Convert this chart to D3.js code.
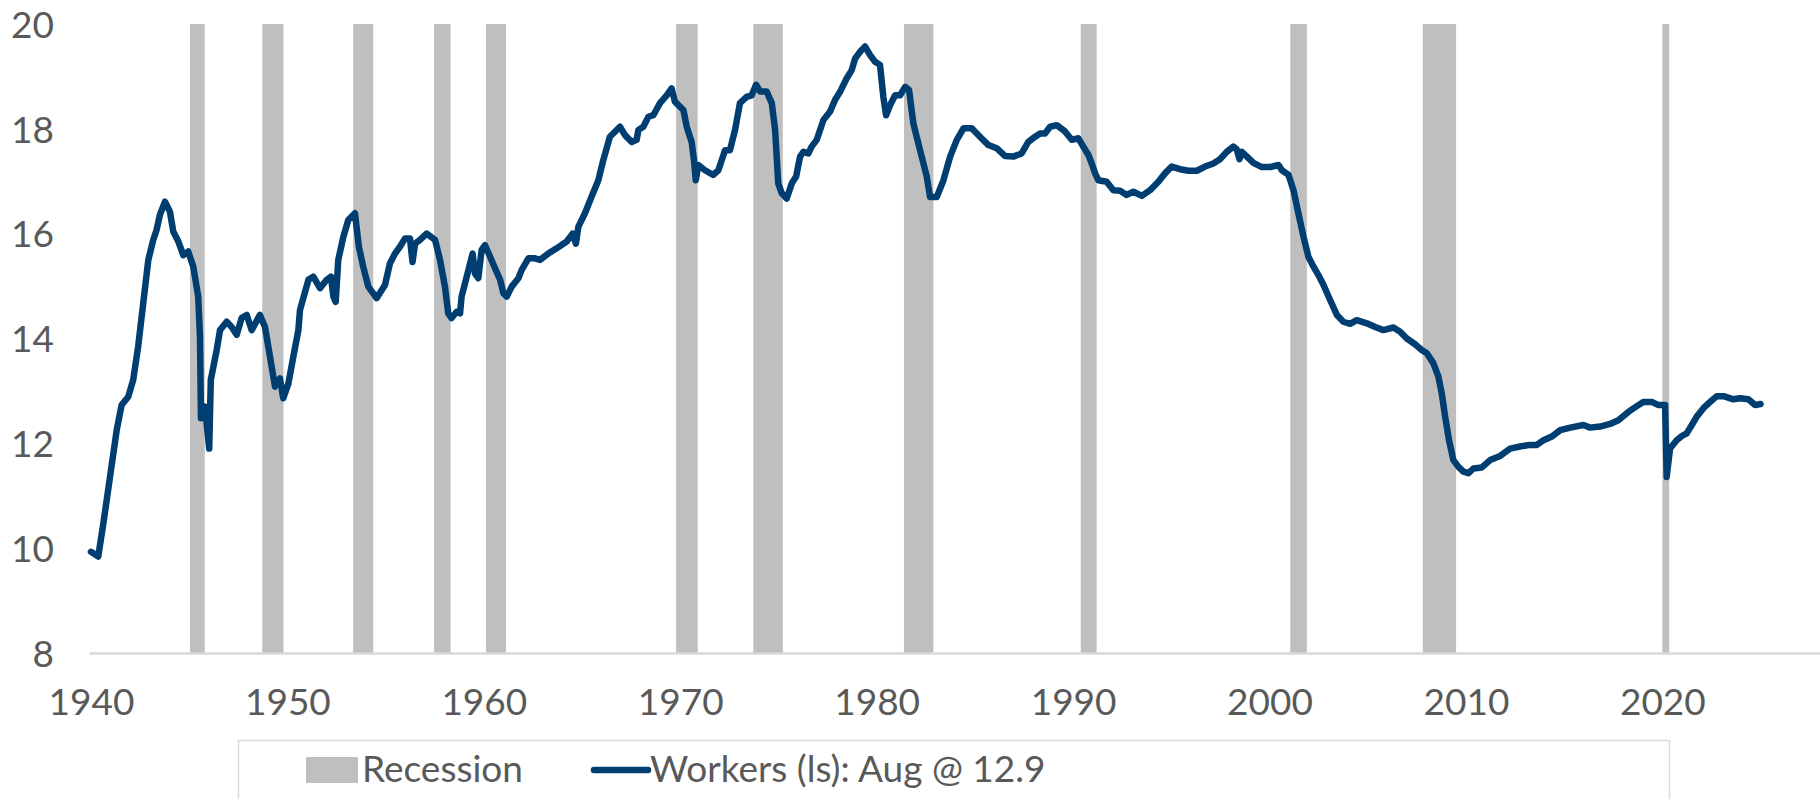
<!DOCTYPE html>
<html>
<head>
<meta charset="utf-8">
<script src="https://cdn.jsdelivr.net/npm/d3@7"></script>
<style>
  body { margin: 0; background: #fff; }
  #chart text { font-family: Lato, "Open Sans", sans-serif; fill: #595959; }
</style>
</head>
<body>
<div id="chart"></div>
<script>
// monthly-ish readings, decimal year -> value
var years = [
  1940.00, 1940.37, 1940.63, 1940.97, 1941.31, 1941.56, 1941.90, 1942.15, 1942.40, 1942.66,
  1942.92, 1943.17, 1943.34, 1943.51, 1943.77, 1944.02, 1944.19, 1944.45, 1944.70, 1944.95,
  1945.21, 1945.46, 1945.55, 1945.60, 1945.80, 1946.02, 1946.10, 1946.40, 1946.57, 1946.91,
  1947.16, 1947.42, 1947.67, 1947.93, 1948.18, 1948.60, 1948.86, 1949.03, 1949.37, 1949.62,
  1949.79, 1950.05, 1950.30, 1950.56, 1950.64, 1950.81, 1951.07, 1951.32, 1951.66, 1952.00,
  1952.22, 1952.34, 1952.46, 1952.59, 1952.85, 1953.10, 1953.44, 1953.64, 1953.86, 1954.12,
  1954.54, 1954.97, 1955.22, 1955.48, 1955.73, 1955.99, 1956.24, 1956.37, 1956.50, 1956.75,
  1957.09, 1957.52, 1957.77, 1958.02, 1958.19, 1958.36, 1958.62, 1958.79, 1958.87, 1959.13,
  1959.43, 1959.55, 1959.72, 1959.89, 1960.06, 1960.32, 1960.57, 1960.83, 1961.00, 1961.17,
  1961.42, 1961.76, 1961.93, 1962.27, 1962.60, 1962.86, 1963.28, 1963.71, 1964.22, 1964.52,
  1964.69, 1964.81, 1965.15, 1965.49, 1965.83, 1966.08, 1966.42, 1966.93, 1967.19, 1967.53,
  1967.78, 1967.87, 1968.12, 1968.38, 1968.63, 1968.97, 1969.31, 1969.56, 1969.73, 1970.16,
  1970.33, 1970.58, 1970.70, 1970.79, 1970.92, 1971.26, 1971.68, 1971.94, 1972.28, 1972.53,
  1972.79, 1973.04, 1973.38, 1973.64, 1973.86, 1974.07, 1974.40, 1974.66, 1974.83, 1974.99,
  1975.17, 1975.42, 1975.68, 1975.90, 1976.10, 1976.27, 1976.52, 1976.69, 1976.95, 1977.29,
  1977.63, 1977.88, 1978.14, 1978.47, 1978.73, 1978.90, 1979.15, 1979.41, 1979.66, 1979.92,
  1980.17, 1980.34, 1980.48, 1980.68, 1980.94, 1981.19, 1981.45, 1981.65, 1981.87, 1982.21,
  1982.55, 1982.72, 1983.06, 1983.40, 1983.74, 1984.08, 1984.42, 1984.84, 1985.26, 1985.69,
  1986.11, 1986.54, 1986.96, 1987.38, 1987.72, 1988.07, 1988.32, 1988.57, 1988.83, 1989.17,
  1989.59, 1989.93, 1990.27, 1990.52, 1990.78, 1990.95, 1991.12, 1991.29, 1991.71, 1992.05,
  1992.39, 1992.73, 1993.07, 1993.50, 1993.92, 1994.34, 1994.68, 1995.02, 1995.45, 1995.87,
  1996.30, 1996.72, 1997.14, 1997.48, 1997.82, 1998.16, 1998.33, 1998.47, 1998.59, 1998.85,
  1999.18, 1999.61, 2000.03, 2000.46, 2000.63, 2000.97, 2001.22, 2001.47, 2001.73, 2001.98,
  2002.24, 2002.49, 2002.75, 2003.09, 2003.43, 2003.76, 2004.10, 2004.44, 2004.95, 2005.38,
  2005.80, 2006.31, 2006.65, 2006.99, 2007.41, 2007.75, 2008.01, 2008.34, 2008.60, 2008.77,
  2008.94, 2009.14, 2009.36, 2009.62, 2009.87, 2010.13, 2010.38, 2010.81, 2011.23, 2011.74,
  2012.25, 2012.76, 2013.27, 2013.61, 2013.95, 2014.37, 2014.80, 2015.31, 2015.98, 2016.32,
  2016.83, 2017.34, 2017.76, 2018.27, 2018.70, 2019.03, 2019.46, 2019.80, 2020.14, 2020.22,
  2020.39, 2020.73, 2020.99, 2021.24, 2021.50, 2021.75, 2022.09, 2022.43, 2022.77, 2023.11,
  2023.62, 2023.96, 2024.38, 2024.72, 2025.00
];
var workers = [
  9.93, 9.84, 10.47, 11.36, 12.25, 12.73, 12.89, 13.21, 13.84, 14.67,
  15.50, 15.88, 16.07, 16.36, 16.61, 16.42, 16.04, 15.85, 15.59, 15.66,
  15.37, 14.80, 14.03, 12.48, 12.70, 11.90, 13.21, 13.78, 14.16, 14.32,
  14.22, 14.07, 14.39, 14.45, 14.16, 14.45, 14.22, 13.84, 13.08, 13.24,
  12.86, 13.14, 13.65, 14.16, 14.54, 14.77, 15.12, 15.18, 14.96, 15.12,
  15.18, 14.80, 14.70, 15.50, 15.94, 16.26, 16.39, 15.75, 15.37, 14.99,
  14.77, 15.02, 15.43, 15.62, 15.75, 15.91, 15.91, 15.46, 15.81, 15.88,
  16.00, 15.88, 15.50, 14.99, 14.48, 14.39, 14.51, 14.48, 14.80, 15.18,
  15.62, 15.24, 15.15, 15.69, 15.78, 15.56, 15.34, 15.12, 14.86, 14.80,
  14.99, 15.15, 15.31, 15.53, 15.53, 15.50, 15.62, 15.72, 15.85, 16.00,
  15.81, 16.13, 16.39, 16.71, 17.02, 17.40, 17.85, 18.04, 17.88, 17.75,
  17.79, 17.98, 18.04, 18.23, 18.26, 18.49, 18.64, 18.77, 18.52, 18.36,
  18.04, 17.75, 17.40, 17.02, 17.31, 17.21, 17.12, 17.21, 17.59, 17.59,
  17.98, 18.49, 18.61, 18.64, 18.84, 18.71, 18.71, 18.49, 17.98, 16.96,
  16.77, 16.67, 16.96, 17.09, 17.47, 17.56, 17.53, 17.66, 17.79, 18.17,
  18.33, 18.55, 18.71, 18.96, 19.12, 19.34, 19.47, 19.57, 19.41, 19.28,
  19.22, 18.61, 18.26, 18.45, 18.64, 18.64, 18.80, 18.74, 18.10, 17.59,
  17.09, 16.70, 16.70, 17.02, 17.47, 17.79, 18.01, 18.01, 17.85, 17.69,
  17.63, 17.48, 17.47, 17.53, 17.75, 17.85, 17.91, 17.91, 18.04, 18.07,
  17.95, 17.79, 17.82, 17.66, 17.50, 17.34, 17.15, 17.02, 16.99, 16.83,
  16.82, 16.74, 16.80, 16.72, 16.83, 16.99, 17.15, 17.28, 17.23, 17.20,
  17.20, 17.28, 17.34, 17.42, 17.56, 17.66, 17.61, 17.42, 17.56, 17.47,
  17.35, 17.27, 17.27, 17.31, 17.21, 17.12, 16.83, 16.39, 15.94, 15.56,
  15.37, 15.21, 15.02, 14.73, 14.45, 14.32, 14.28, 14.35, 14.29, 14.22,
  14.16, 14.21, 14.13, 14.00, 13.89, 13.78, 13.72, 13.53, 13.27, 12.95,
  12.51, 12.06, 11.68, 11.55, 11.46, 11.43, 11.52, 11.54, 11.68, 11.76,
  11.90, 11.94, 11.97, 11.97, 12.06, 12.13, 12.25, 12.30, 12.35, 12.30,
  12.32, 12.37, 12.44, 12.60, 12.71, 12.79, 12.79, 12.73, 12.73, 11.36,
  11.90, 12.06, 12.14, 12.19, 12.35, 12.51, 12.67, 12.79, 12.90, 12.90,
  12.84, 12.86, 12.84, 12.73, 12.75
];

// recession shading (start / end, decimal years)
var recStart = [1945.04, 1948.72, 1953.35, 1957.47, 1960.11, 1969.79, 1973.72, 1981.39, 1990.39, 2001.06, 2007.80, 2020.00];
var recEnd   = [1945.79, 1949.80, 1954.37, 1958.31, 1961.13, 1970.89, 1975.22, 1982.89, 1991.20, 2001.90, 2009.50, 2020.35];

var yTicks = [8, 10, 12, 14, 16, 18, 20];
var xTicks = [1940, 1950, 1960, 1970, 1980, 1990, 2000, 2010, 2020];

var legendLabels = ["Recession", "Workers (ls): Aug @ 12.9"];

(function(){
  var width = 1820,
    height = 799;

  var svg = d3.select("#chart")
    .append("svg")
    .attr("width", width)
    .attr("height", height)

  var x = d3.scaleLinear().domain([1939.9, 2028]).range([89, 1819.5])
  var y = d3.scaleLinear().domain([8, 20]).range([653, 24])

  var recessions = recStart.map(function(s, i){ return {start: s, end: recEnd[i]} })
  var series = years.map(function(yr, i){ return {year: yr, value: workers[i]} })

  svg.selectAll(".rec")
    .data(recessions)
    .enter().append("rect")
    .attr("class", "rec")
    .attr("x", function(d){ return x(d.start) })
    .attr("width", function(d){ return x(d.end) - x(d.start) })
    .attr("y", y(20))
    .attr("height", y(8) - y(20))
    .attr("fill", "#bfbfbf")

  // x axis: just the baseline and year labels
  var xAxis = svg.append("g")
    .attr("transform", "translate(0," + y(8) + ")")
    .call(d3.axisBottom(x).tickValues(xTicks).tickFormat(d3.format("d")).tickSize(0).tickSizeOuter(0))
  xAxis.select(".domain").attr("stroke", "#d9d9d9").attr("stroke-width", 2.5)
  xAxis.selectAll("text")
    .attr("dy", null)
    .attr("y", 62)
    .style("font-size", "37px")

  var yAxis = svg.append("g")
    .attr("transform", "translate(54,0)")
    .call(d3.axisLeft(y).tickValues(yTicks).tickSize(0))
  yAxis.select(".domain").remove()
  yAxis.selectAll("text")
    .attr("x", 0)
    .attr("dy", "0.36em")
    .style("font-size", "37px")

  var line = d3.line()
    .x(function(d){ return x(d.year) })
    .y(function(d){ return y(d.value) })

  svg.append("path")
    .datum(series)
    .attr("d", line)
    .attr("fill", "none")
    .attr("stroke", "#003e71")
    .attr("stroke-width", 6.5)
    .attr("stroke-linejoin", "round")
    .attr("stroke-linecap", "round")

  // legend box runs off the bottom of the picture
  var legend = svg.append("g")
  legend.append("rect")
    .attr("x", 238.5)
    .attr("y", 740.5)
    .attr("width", 1431)
    .attr("height", 80)
    .attr("fill", "#fff")
    .attr("stroke", "#d9d9d9")
    .attr("stroke-width", 1.5)

  legend.append("rect")
    .attr("x", 306)
    .attr("y", 757)
    .attr("width", 52)
    .attr("height", 26)
    .attr("fill", "#bfbfbf")
  legend.append("text")
    .attr("x", 362)
    .attr("y", 782)
    .style("font-size", "37px")
    .text(legendLabels[0])

  legend.append("line")
    .attr("x1", 594).attr("x2", 648)
    .attr("y1", 770).attr("y2", 770)
    .attr("stroke", "#003e71")
    .attr("stroke-width", 6.5)
    .attr("stroke-linecap", "round")
  legend.append("text")
    .attr("x", 650)
    .attr("y", 782)
    .style("font-size", "37px")
    .text(legendLabels[1])

})();
</script>
</body>
</html>
